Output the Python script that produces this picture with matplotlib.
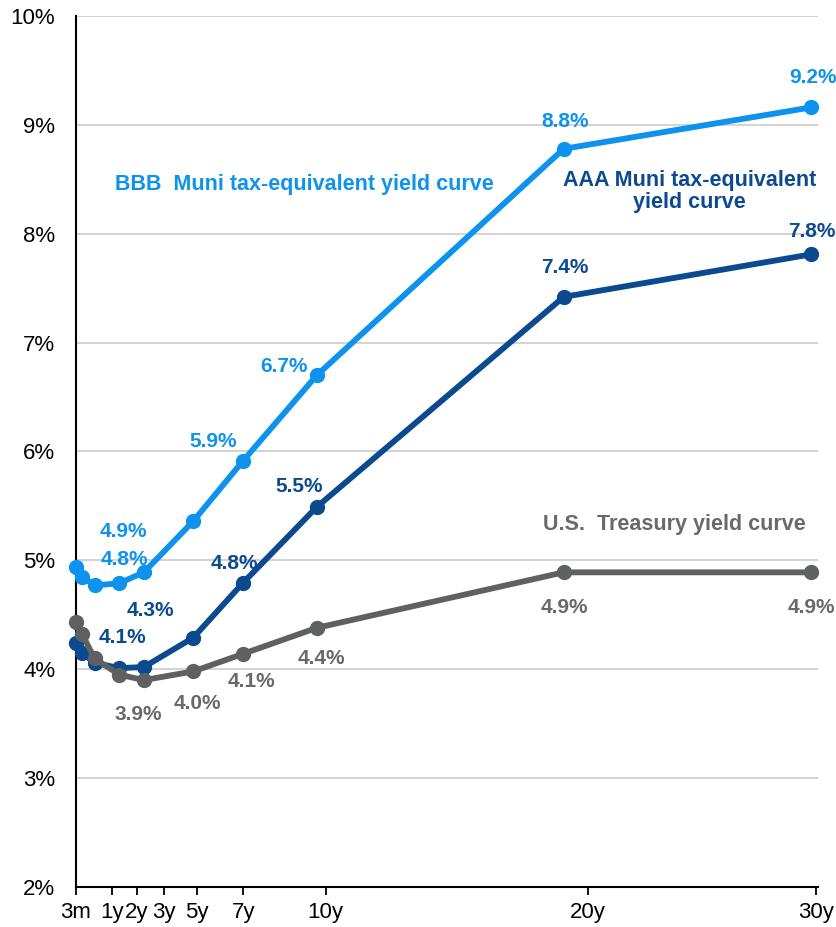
import matplotlib
matplotlib.use("Agg")
import matplotlib.pyplot as plt
from matplotlib.ticker import FuncFormatter

plt.rcParams['font.family'] = ['Liberation Sans', 'DejaVu Sans']

# maturities in years
maturity = [0.25, 0.5, 1, 2, 3, 5, 7, 10, 20, 30]

bbb_yield = [4.94, 4.85, 4.77, 4.79, 4.89, 5.36, 5.91, 6.70, 8.78, 9.16]
aaa_yield = [4.24, 4.15, 4.06, 4.01, 4.02, 4.29, 4.79, 5.49, 7.42, 7.81]
ust_yield = [4.43, 4.32, 4.10, 3.95, 3.90, 3.98, 4.14, 4.38, 4.89, 4.89]

# which points get a value label, with the label text
bbb_labels = {3: '4.8%', 4: '4.9%', 6: '5.9%', 7: '6.7%', 8: '8.8%', 9: '9.2%'}
aaa_labels = {3: '4.1%', 5: '4.3%', 6: '4.8%', 7: '5.5%', 8: '7.4%', 9: '7.8%'}
ust_labels = {4: '3.9%', 5: '4.0%', 6: '4.1%', 7: '4.4%', 8: '4.9%', 9: '4.9%'}

tick_labels = ['3m', '1y', '2y', '3y', '5y', '7y', '10y', '20y', '30y']
tick_pos = [0.25, 1.70, 2.71, 3.81, 5.14, 7.02, 10.36, 20.98, 30.2]

c_bbb = '#0d93ee'
c_aaa = '#0b4a8e'
c_ust = '#5f6062'
c_ust_txt = '#696969'

# label offsets in pixels (dx, dy), screen y pointing up
bbb_off = {3: (5, 24), 4: (-21, 41), 6: (-30, 20), 7: (-33, 9), 8: (1, 27), 9: (2, 30)}
aaa_off = {3: (3, 31), 5: (-43, 27), 6: (-8, 20), 7: (-18, 21), 8: (1, 29), 9: (1, 23)}
ust_off = {4: (-6, -34), 5: (4, -32), 6: (9, -28), 7: (5, -31), 8: (1, -35), 9: (1, -35)}

fig = plt.figure(figsize=(8.36, 9.27), dpi=100)
ax = fig.add_axes([0.0909, 0.0432, 0.8876, 0.9395])

ax.plot(maturity, aaa_yield, color=c_aaa, lw=4.2, marker='o', ms=10, zorder=3, clip_on=False)
ax.plot(maturity, bbb_yield, color=c_bbb, lw=4.2, marker='o', ms=10, zorder=3, clip_on=False)
ax.plot(maturity, ust_yield, color=c_ust, lw=4.2, marker='o', ms=10, zorder=4, clip_on=False)

def put_labels(vals, labels, offs, color):
    for i, txt in labels.items():
        dx, dy = offs[i]
        ax.annotate(txt, (maturity[i], vals[i]), xytext=(dx * 0.72, dy * 0.72),
                    textcoords='offset points', ha='center', va='center',
                    fontsize=15, fontweight='bold', color=color, zorder=5)

put_labels(bbb_yield, bbb_labels, bbb_off, c_bbb)
put_labels(aaa_yield, aaa_labels, aaa_off, c_aaa)
put_labels(ust_yield, ust_labels, ust_off, c_ust_txt)

ax.text(1.83, 8.45, 'BBB  Muni tax-equivalent yield curve', color=c_bbb,
        fontsize=15.5, fontweight='bold', ha='left', va='center')
ax.text(25.1, 8.39, 'AAA Muni tax-equivalent\nyield curve', color=c_aaa,
        fontsize=15.5, fontweight='bold', ha='center', va='center', linespacing=1.05)
ax.text(24.5, 5.33, 'U.S.  Treasury yield curve', color=c_ust_txt,
        fontsize=15.5, fontweight='bold', ha='center', va='center')

ax.set_xlim(0.25, 30.3)
ax.set_ylim(2, 10)
ax.set_yticks(range(2, 11))
ax.yaxis.set_major_formatter(FuncFormatter(lambda v, p: f'{v:.0f}%'))
ax.set_xticks(tick_pos)
ax.set_xticklabels(tick_labels)
ax.tick_params(axis='y', length=0, pad=15, labelsize=16)
ax.tick_params(axis='x', length=6, width=1.3, pad=5, labelsize=16, direction='out')
ax.grid(axis='y', color='#c8c8c8', lw=1.1)
ax.set_axisbelow(True)

for s in ['top', 'right']:
    ax.spines[s].set_visible(False)
for s in ['left', 'bottom']:
    ax.spines[s].set_color('black')
    ax.spines[s].set_linewidth(1.5)

fig.savefig('out.png', dpi=100)
